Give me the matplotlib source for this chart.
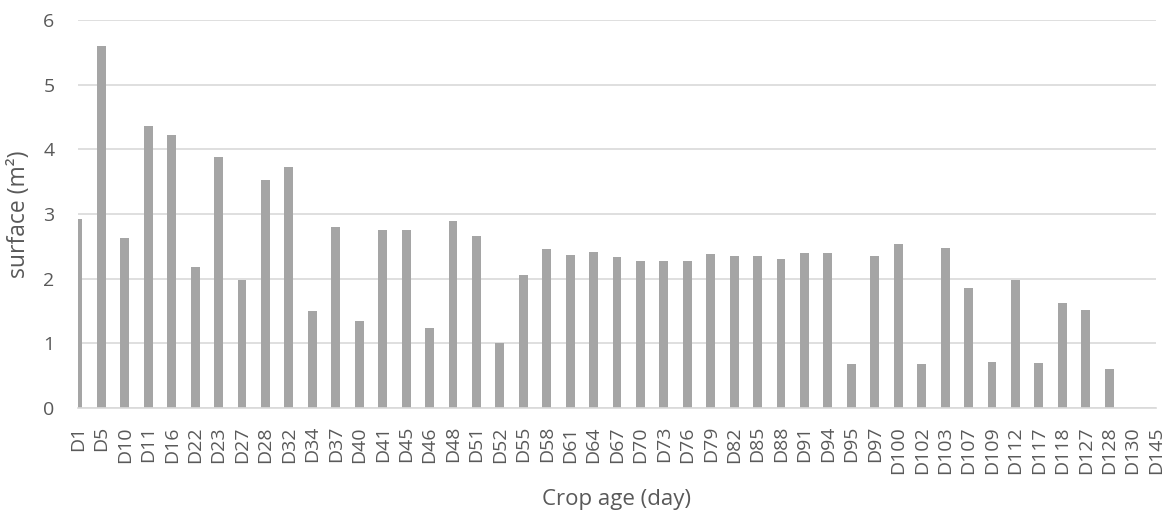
import matplotlib.pyplot as plt
import numpy as np

plt.rcParams['font.family'] = ['Open Sans', 'DejaVu Sans']

# crop age categories and measured surface
days = ["D1", "D5", "D10", "D11", "D16", "D22", "D23", "D27", "D28", "D32",
        "D34", "D37", "D40", "D41", "D45", "D46", "D48", "D51", "D52", "D55",
        "D58", "D61", "D64", "D67", "D70", "D73", "D76", "D79", "D82", "D85",
        "D88", "D91", "D94", "D95", "D97", "D100", "D102", "D103", "D107", "D109",
        "D112", "D117", "D118", "D127", "D128", "D130", "D145"]
surface = [2.92, 5.60, 2.63, 4.36, 4.22, 2.18, 3.88, 1.98, 3.52, 3.73,
           1.50, 2.80, 1.35, 2.76, 2.76, 1.24, 2.89, 2.66, 1.00, 2.06,
           2.46, 2.37, 2.41, 2.33, 2.28, 2.28, 2.28, 2.38, 2.35, 2.35,
           2.31, 2.39, 2.39, 0.68, 2.35, 2.53, 0.68, 2.48, 1.85, 0.71,
           1.98, 0.69, 1.63, 1.52, 0.61, 0.0, 0.0]

text_col = "#595959"

fig = plt.figure(figsize=(11.69, 5.15), dpi=100)
ax = fig.add_axes([78 / 1169, 1 - 408 / 515, (1156 - 78) / 1169, (408 - 20) / 515])

x = np.arange(len(days))
ax.bar(x, surface, width=0.38, color="#A5A5A5", zorder=2)

ax.set_xlim(0, len(days) - 1)
ax.set_ylim(0, 6)
ax.set_yticks(range(0, 7))
ax.set_xticks(x)
ax.set_xticklabels(days, rotation=90)

ax.grid(axis="y", color="#D9D9D9", linewidth=1.2, zorder=0)
for s in ["top", "right", "left"]:
    ax.spines[s].set_visible(False)
ax.spines["bottom"].set_color("#D9D9D9")
ax.spines["bottom"].set_linewidth(1.2)
ax.tick_params(length=0, labelsize=14, colors=text_col)
ax.tick_params(axis="x", pad=13)
ax.tick_params(axis="y", pad=17)

ax.set_xlabel("Crop age (day)", fontsize=16, color=text_col, labelpad=11)
ax.set_ylabel("surface (m²)", fontsize=16.5, color=text_col, labelpad=9)

fig.savefig("out.png", dpi=100)
